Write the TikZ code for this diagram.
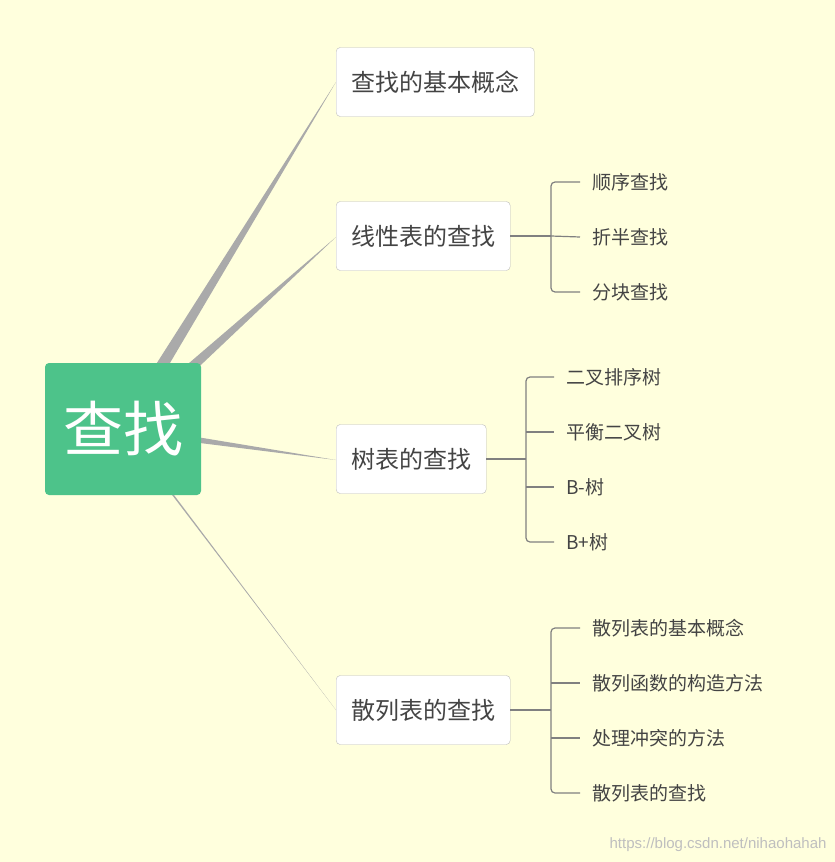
\documentclass[tikz,border=0pt]{standalone}
\usepackage{fontspec}
\setmainfont{Noto Sans CJK SC}
\newfontfamily\wmfont{Liberation Sans}
\definecolor{bgyellow}{HTML}{FFFFDD}
\definecolor{rootgreen}{HTML}{4DC38A}
\definecolor{branchgray}{HTML}{AAAAAA}
\definecolor{txtgray}{HTML}{444444}
\tikzset{
  topic/.style={draw=branchgray!80, fill=white, rounded corners=4pt, minimum height=69pt, inner xsep=15pt, anchor=west, text=txtgray, font=\fontsize{24}{28}\selectfont},
  leaf/.style={anchor=west, inner xsep=12pt, inner ysep=0pt, text=txtgray, font=\fontsize{19}{22}\selectfont},
  link/.style={draw=gray, line width=1.2pt}
}
\begin{document}
\begin{tikzpicture}[x=1pt, y=-1pt]
\fill[bgyellow] (0,0) rectangle (835,862);
\useasboundingbox (0,0) rectangle (835,862);

% branches
\foreach \ty in {82,237,460,710}
{
    \fill[branchgray] (118,424) -- (128,434) -- (336,\ty) -- cycle;
}
\node[fill=rootgreen, rounded corners=4pt, minimum width=156pt, minimum height=132pt, text=white, font=\fontsize{60}{66}\selectfont] (root) at (123,429) {查找};

\node[topic] (basic) at (336,82) {查找的基本概念};
\node[topic] (linear) at (336,236) {线性表的查找};
\node[topic] (tree) at (336,459) {树表的查找};
\node[topic] (hash) at (336,710) {散列表的查找};

% linear
\foreach \t [count=\i] in {顺序查找,折半查找,分块查找}
    \node[leaf] (lin\i) at (580,127+55*\i) {\t};
\draw[link] (linear.east) -- (551,236);
\draw[link, rounded corners=4pt] (lin1.west) -| (551,236) |- (lin3.west);
\draw[link] (551,236) -- (lin2.west);

% tree
\foreach \t [count=\i] in {二叉排序树,平衡二叉树,B-树,B+树}
    \node[leaf] (tr\i) at (554,322+55*\i) {\t};
\draw[link] (tree.east) -- (526,459);
\draw[link, rounded corners=4pt] (tr1.west) -| (526,459) |- (tr4.west);
\draw[link] (526,432) -- (tr2.west);
\draw[link] (526,487) -- (tr3.west);

% hash
\foreach \t [count=\i] in {散列表的基本概念,散列函数的构造方法,处理冲突的方法,散列表的查找}
    \node[leaf] (hs\i) at (580,573+55*\i) {\t};
\draw[link] (hash.east) -- (551,710);
\draw[link, rounded corners=4pt] (hs1.west) -| (551,710) |- (hs4.west);
\draw[link] (551,683) -- (hs2.west);
\draw[link] (551,738) -- (hs3.west);

\node[anchor=east, text=black!25, font=\wmfont\fontsize{15}{17}\selectfont] (mark) at (830,845) {https://blog.csdn.net/nihaohahah};
\end{tikzpicture}
\end{document}
